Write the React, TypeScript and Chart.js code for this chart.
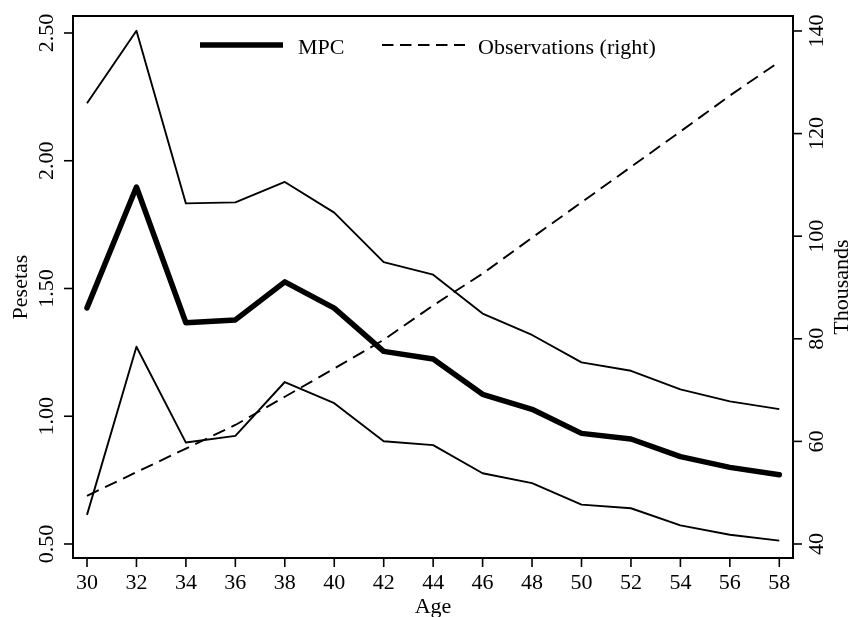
import React, { useEffect, useRef } from "react";
import { Chart, registerables } from "chart.js";

Chart.register(...registerables);

// ---- Data ----
const ages = [30, 32, 34, 36, 38, 40, 42, 44, 46, 48, 50, 52, 54, 56, 58];
const mpc = [1.424, 1.897, 1.366, 1.377, 1.526, 1.423, 1.254, 1.224, 1.086, 1.027, 0.933, 0.911, 0.842, 0.8, 0.771];
const upperBand = [2.225, 2.509, 1.833, 1.837, 1.917, 1.797, 1.603, 1.554, 1.402, 1.318, 1.211, 1.178, 1.105, 1.058, 1.028];
const lowerBand = [0.614, 1.272, 0.897, 0.923, 1.134, 1.051, 0.902, 0.887, 0.777, 0.738, 0.654, 0.64, 0.573, 0.536, 0.513];
const observations = [49.4, 54.0, 58.6, 63.2, 68.7, 74.2, 79.8, 86.5, 92.7, 99.7, 106.6, 113.5, 120.4, 127.4, 134.0];

const xTicks = [30, 32, 34, 36, 38, 40, 42, 44, 46, 48, 50, 52, 54, 56, 58];
const leftTicks = [0.5, 1.0, 1.5, 2.0, 2.5];
const leftTickLabels = ["0.50", "1.00", "1.50", "2.00", "2.50"];
const rightTicks = [40, 60, 80, 100, 120, 140];
const rightTickLabels = ["40", "60", "80", "100", "120", "140"];

const xTitle = "Age";
const leftTitle = "Pesetas";
const rightTitle = "Thousands";
const legendLabels = ["MPC", "Observations (right)"];

const FONT = '22px "Liberation Serif", "Times New Roman", serif';
const TICK = 9;
const DASH = [13, 7];
const THIN = 1.9;
const THICK = 5.5;

const toXY = (vals: number[]) => vals.map((v, i) => ({ x: ages[i], y: v }));

const decorPlugin = {
  id: "decor",
  afterDraw(chart: any) {
    const { ctx, chartArea: a, scales } = chart;
    const sx = scales.x;
    const sy = scales.y;
    const sy1 = scales.y1;
    ctx.save();
    ctx.strokeStyle = "#000";
    ctx.fillStyle = "#000";
    ctx.setLineDash([]);
    // box
    ctx.lineWidth = 2;
    ctx.strokeRect(a.left, a.top, a.right - a.left, a.bottom - a.top);
    ctx.font = FONT;
    ctx.lineWidth = 1.6;
    // x ticks
    ctx.textAlign = "center";
    ctx.textBaseline = "alphabetic";
    xTicks.forEach((v) => {
      const px = sx.getPixelForValue(v);
      ctx.beginPath();
      ctx.moveTo(px, a.bottom);
      ctx.lineTo(px, a.bottom + TICK);
      ctx.stroke();
      ctx.fillText(String(v), px, a.bottom + 30.5);
    });
    // left ticks
    leftTicks.forEach((v, i) => {
      const py = sy.getPixelForValue(v);
      ctx.beginPath();
      ctx.moveTo(a.left - TICK, py);
      ctx.lineTo(a.left, py);
      ctx.stroke();
      ctx.save();
      ctx.translate(a.left - 20, py);
      ctx.rotate(-Math.PI / 2);
      ctx.fillText(leftTickLabels[i], 0, 0);
      ctx.restore();
    });
    // right ticks
    rightTicks.forEach((v, i) => {
      const py = sy1.getPixelForValue(v);
      ctx.beginPath();
      ctx.moveTo(a.right, py);
      ctx.lineTo(a.right + TICK, py);
      ctx.stroke();
      ctx.save();
      ctx.translate(a.right + 30, py);
      ctx.rotate(-Math.PI / 2);
      ctx.fillText(rightTickLabels[i], 0, 0);
      ctx.restore();
    });
    // axis titles
    const midY = (a.top + a.bottom) / 2;
    const midX = (a.left + a.right) / 2;
    ctx.fillText(xTitle, midX, a.bottom + 55);
    ctx.save();
    ctx.translate(a.left - 46, midY);
    ctx.rotate(-Math.PI / 2);
    ctx.fillText(leftTitle, 0, 0);
    ctx.restore();
    ctx.save();
    ctx.translate(a.right + 55, midY);
    ctx.rotate(-Math.PI / 2);
    ctx.fillText(rightTitle, 0, 0);
    ctx.restore();
    // legend
    const ly = a.top + 29;
    ctx.lineWidth = THICK;
    ctx.beginPath();
    ctx.moveTo(a.left + 127, ly);
    ctx.lineTo(a.left + 210, ly);
    ctx.stroke();
    ctx.textAlign = "left";
    ctx.fillText(legendLabels[0], a.left + 225, ly + 9);
    ctx.lineWidth = THIN;
    ctx.setLineDash([11.5, 6.5]);
    ctx.beginPath();
    ctx.moveTo(a.left + 309, ly);
    ctx.lineTo(a.left + 392, ly);
    ctx.stroke();
    ctx.setLineDash([]);
    ctx.fillText(legendLabels[1], a.left + 405, ly + 9);
    ctx.restore();
  },
};

export default function App() {
  const ref = useRef<HTMLCanvasElement | null>(null);

  useEffect(() => {
    if (!ref.current) return;
    const chart = new Chart(ref.current, {
      type: "line",
      data: {
        datasets: [
          {
            label: "Upper",
            data: toXY(upperBand),
            borderColor: "#000",
            borderWidth: THIN,
            pointRadius: 0,
            yAxisID: "y",
            borderJoinStyle: "round",
          },
          {
            label: "Lower",
            data: toXY(lowerBand),
            borderColor: "#000",
            borderWidth: THIN,
            pointRadius: 0,
            yAxisID: "y",
            borderJoinStyle: "round",
          },
          {
            label: "Observations (right)",
            data: toXY(observations),
            borderColor: "#000",
            borderWidth: THIN,
            borderDash: DASH,
            pointRadius: 0,
            yAxisID: "y1",
          },
          {
            label: "MPC",
            data: toXY(mpc),
            borderColor: "#000",
            borderWidth: THICK,
            pointRadius: 0,
            yAxisID: "y",
            borderJoinStyle: "round",
            borderCapStyle: "round",
          },
        ],
      },
      options: {
        animation: false,
        responsive: false,
        devicePixelRatio: 1,
        layout: { padding: { top: 16, left: 0, right: 0, bottom: 0 } },
        plugins: { legend: { display: false }, tooltip: { enabled: false } },
        scales: {
          x: {
            type: "linear",
            min: 29.434,
            max: 58.554,
            grid: { display: false },
            border: { display: false },
            ticks: { display: false },
            afterFit: (s: any) => {
              s.height = 59;
            },
          },
          y: {
            type: "linear",
            position: "left",
            min: 0.4452,
            max: 2.5665,
            grid: { display: false },
            border: { display: false },
            ticks: { display: false },
            afterFit: (s: any) => {
              s.width = 73;
            },
          },
          y1: {
            type: "linear",
            position: "right",
            min: 37.27,
            max: 142.92,
            grid: { display: false },
            border: { display: false },
            ticks: { display: false },
            afterFit: (s: any) => {
              s.width = 56;
            },
          },
        },
      },
      plugins: [decorPlugin],
    });
    return () => chart.destroy();
  }, []);

  return (
    <div style={{ position: "fixed", left: 0, top: 0, width: 849, height: 617, background: "#fff" }}>
      <canvas ref={ref} width={849} height={617} style={{ display: "block" }} />
    </div>
  );
}
